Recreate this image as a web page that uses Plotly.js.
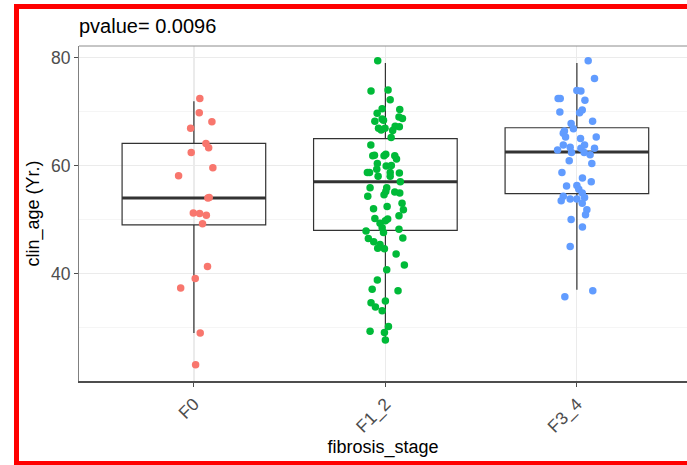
<!DOCTYPE html>
<html>
<head>
<meta charset="utf-8">
<script src="https://cdn.plot.ly/plotly-3.0.1.min.js"></script>
<style>
  html, body { margin: 0; padding: 0; background: #fff; overflow: hidden; }
  #wrap { position: relative; width: 687px; height: 465px; overflow: hidden; }
  #chart { position: absolute; left: 0; top: 0; width: 687px; height: 465px; }
  #frame { position: absolute; left: 14px; top: 4px; width: 720px; height: 462px;
           box-sizing: border-box; border: 5px solid #ff0000; pointer-events: none; }
</style>
</head>
<body>
<div id="wrap">
  <div id="chart"></div>
  <div id="frame"></div>
</div>
<script>
// ---- data ----
const categories = ['F0', 'F1_2', 'F3_4'];
const colors = ['#F8766D', '#00BA38', '#619CFF'];

// box statistics
const q1s = [49.0, 48.0, 54.8];
const medians = [54.0, 57.0, 62.5];
const q3s = [64.1, 65.0, 67.0];
const lowerWhiskers = [29.0, 27.7, 37.0];
const upperWhiskers = [71.9, 79.0, 79.0];

// individual ages (jittered points) and their horizontal jitter (category units)
const f0_age = [72.4, 69.8, 68.1, 66.9, 64.1, 63.3, 62.4, 59.6, 58.1, 54.1, 54.0, 51.2, 51.1, 50.8, 49.2, 41.3, 39.1, 37.3, 29.0, 23.1];
const f0_jit = [0.031, 0.028, 0.094, -0.017, 0.063, 0.077, -0.014, 0.099, -0.080, 0.080, 0.073, -0.003, 0.030, 0.065, 0.045, 0.071, 0.007, -0.069, 0.033, 0.009];

const f12_age = [79.4, 73.8, 74.0, 72.2, 70.5, 70.4, 69.7, 69.0, 68.7, 68.6, 68.2, 68.4, 67.3, 67.2, 66.9, 66.6, 66.9, 66.5, 65.2,
  63.8, 61.8, 61.9, 61.8, 62.1, 61.8, 61.2, 60.4, 59.9, 60.0, 59.3, 58.7, 58.7, 58.7, 58.6, 58.0, 58.0, 57.0, 55.9, 55.9, 55.2,
  55.1, 54.9, 54.3, 54.6, 53.0, 52.0, 52.4, 51.8, 50.2, 50.7, 49.3, 49.8, 50.1, 48.5, 47.6, 47.9, 48.2, 46.5, 45.9, 46.6,
  45.4, 44.7, 44.6, 43.6, 41.6, 40.7, 38.8, 37.1, 36.8, 34.6, 33.8, 34.9, 33.1, 30.2, 29.3, 29.1, 27.7];
const f12_jit = [-0.040, -0.075, 0.014, 0.025, -0.017, 0.075, -0.043, 0.071, 0.089, -0.017, -0.055, -0.010, 0.051, 0.073, -0.036, -0.022, -0.002, 0.038, 0.030,
  -0.076, -0.066, -0.057, -0.007, 0.002, 0.049, 0.058, -0.042, 0.004, 0.031, -0.045, -0.094, -0.083, 0.025, 0.073, -0.038, 0.025, 0.078, -0.080, 0.007, 0.002,
  0.049, 0.075, -0.092, -0.007, 0.087, -0.062, 0.009, 0.094, -0.055, 0.071, -0.028, 0.000, 0.012, -0.017, -0.010, -0.101, 0.071, -0.089, -0.061, 0.091,
  -0.028, -0.040, -0.005, 0.056, 0.099, 0.007, -0.042, -0.069, 0.066, -0.075, -0.052, 0.000, -0.017, 0.016, -0.080, -0.005, 0.000];

const f34_age = [79.4, 76.1, 73.9, 73.8, 72.4, 72.4, 72.1, 69.9, 69.8, 70.3, 68.2, 67.8, 66.8, 66.4, 66.0, 65.3, 65.0, 65.3, 63.8, 63.4,
  63.8, 63.2, 62.9, 63.2, 62.4, 62.4, 62.0, 60.9, 60.4, 58.7, 57.7, 57.0, 56.2, 56.3, 55.6, 54.9, 54.3, 53.5, 53.8, 53.8,
  54.1, 53.0, 51.8, 50.9, 50.0, 48.6, 45.0, 36.8, 35.7];
const f34_jit = [0.059, 0.092, 0.000, 0.021, -0.098, -0.087, 0.042, -0.089, 0.014, 0.028, 0.082, -0.030, -0.018, -0.065, -0.071, -0.059, 0.019, 0.101, -0.071, -0.035,
  0.040, 0.021, -0.101, 0.092, -0.028, 0.038, 0.069, -0.040, 0.078, -0.078, 0.029, 0.075, -0.054, 0.000, 0.010, 0.028, -0.071, -0.082, -0.035, 0.000,
  0.040, 0.028, 0.052, 0.045, -0.030, 0.029, -0.035, 0.083, -0.063];

const groups = [
  { age: f0_age, jit: f0_jit },
  { age: f12_age, jit: f12_jit },
  { age: f34_age, jit: f34_jit }
];

const titleText = 'pvalue= 0.0096';
const xTitle = 'fibrosis_stage';
const yTitle = 'clin_age (Yr.)';

// ---- traces ----
const idx = categories.map((c, i) => i);
const boxWidth = 0.75;
const FONT = 'Liberation Sans, Arial, Helvetica, sans-serif';

const traces = [];
traces.push({
  type: 'box',
  x: idx,
  q1: q1s, median: medians, q3: q3s,
  lowerfence: lowerWhiskers, upperfence: upperWhiskers,
  width: boxWidth,
  whiskerwidth: 0,
  boxpoints: false,
  fillcolor: 'rgba(0,0,0,0)',
  line: { color: '#333333', width: 1.2 },
  hoverinfo: 'skip',
  showlegend: false
});

// thicker median lines
const mx = [], my = [];
idx.forEach(i => { mx.push(i - boxWidth / 2, i + boxWidth / 2, null); my.push(medians[i], medians[i], null); });
traces.push({
  type: 'scatter', mode: 'lines', x: mx, y: my,
  line: { color: '#333333', width: 3 }, hoverinfo: 'skip', showlegend: false
});

groups.forEach((g, i) => {
  traces.push({
    type: 'scatter', mode: 'markers',
    x: g.jit.map(j => i + j), y: g.age,
    marker: { color: colors[i], size: 7.5, line: { width: 0 } },
    name: categories[i], showlegend: false
  });
});

const layout = {
  width: 687, height: 465,
  margin: { l: 78.5, r: 0, t: 45.5, b: 83.5 },
  paper_bgcolor: '#ffffff', plot_bgcolor: '#ffffff',
  font: { family: FONT, color: '#000000' },
  title: {
    text: titleText,
    font: { family: FONT, size: 20, color: '#000000' },
    xref: 'paper', x: 0, xanchor: 'left',
    yref: 'container', y: 1 - 26 / 465, yanchor: 'middle'
  },
  xaxis: {
    range: [-0.6, 2.575],
    tickmode: 'array', tickvals: idx, ticktext: categories,
    tickangle: -45,
    tickfont: { family: FONT, size: 17.5, color: '#4d4d4d' },
    ticks: 'outside', ticklen: 4, tickcolor: '#4d4d4d', tickwidth: 1,
    showgrid: true, gridcolor: '#ebebeb', gridwidth: 1.2,
    zeroline: false,
    showline: true, linecolor: '#4d4d4d', linewidth: 2,
    title: { text: xTitle, font: { family: FONT, size: 18, color: '#000000' }, standoff: 3 }
  },
  yaxis: {
    range: [20.1, 82.14],
    tickmode: 'array', tickvals: [40, 60, 80],
    tickfont: { family: FONT, size: 17.5, color: '#4d4d4d' },
    ticks: 'outside', ticklen: 4, tickcolor: '#4d4d4d', tickwidth: 1,
    showgrid: true, gridcolor: '#ebebeb', gridwidth: 1.2,
    minor: { tickmode: 'array', tickvals: [30, 50, 70], showgrid: true, gridcolor: '#f2f2f2', gridwidth: 0.8, ticklen: 0 },
    zeroline: false,
    showline: true, linecolor: '#808080', linewidth: 1,
    title: { text: yTitle, font: { family: FONT, size: 18, color: '#000000' }, standoff: 6 }
  },
  shapes: [
    { type: 'line', xref: 'paper', yref: 'paper', x0: 0, x1: 1, y0: 1, y1: 1,
      line: { color: '#8c8c8c', width: 1 }, layer: 'above' }
  ]
};

Plotly.newPlot('chart', traces, layout, { staticPlot: true, displayModeBar: false });
</script>
</body>
</html>
